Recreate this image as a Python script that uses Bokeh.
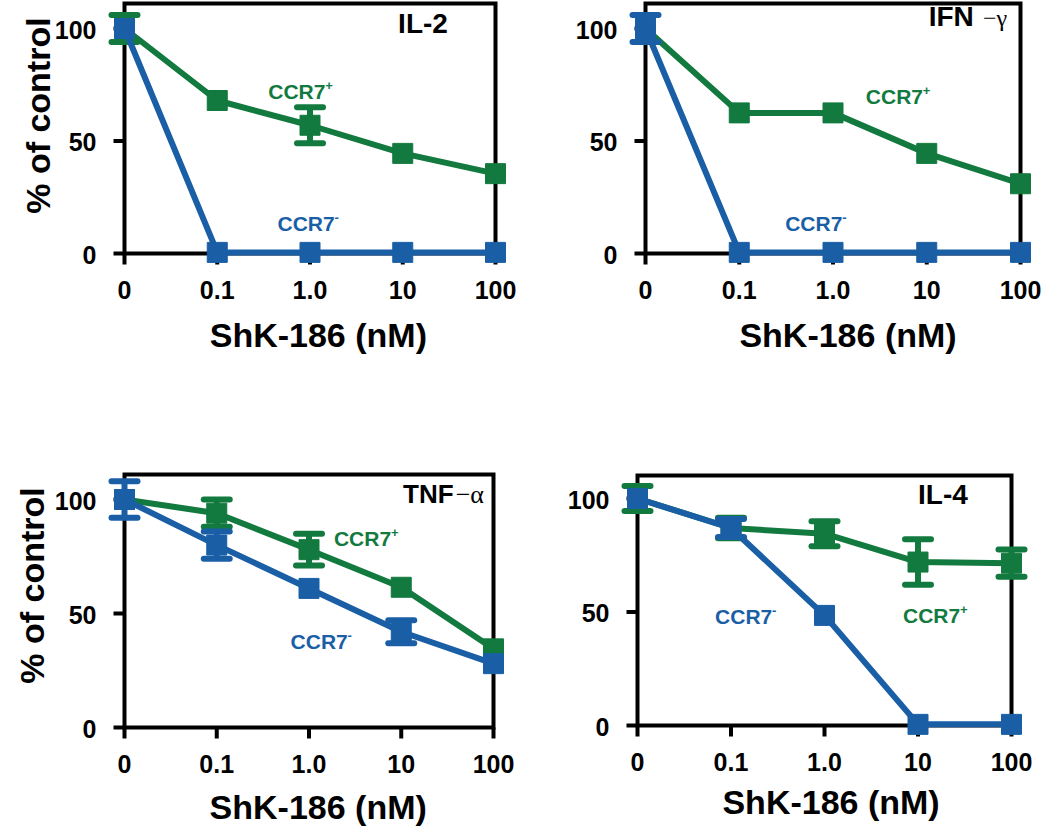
import math
from bokeh.plotting import figure
from bokeh.models import Range1d
from bokeh.layouts import column, row
from bokeh.core.properties import value
from bokeh.embed import file_html
from bokeh.resources import INLINE

# ---------------- data ----------------
doses = ["0", "0.1", "1.0", "10", "100"]          # ShK-186 (nM) tick labels
x_pos = [0, 1, 2, 3, 4]                            # positions of the dose categories
y_ticks = [0, 50, 100]
y_tick_labels = ["0", "50", "100"]

il2_pos = [100, 68, 57, 44.5, 35.5]
il2_pos_err = [6, 0, 8, 0, 0]
il2_neg = [100, 0.5, 0.5, 0.5, 0.5]
il2_neg_err = [0, 0, 0, 0, 0]

ifn_pos = [100, 62.5, 62.5, 44.5, 31]
ifn_pos_err = [0, 0, 0, 0, 0]
ifn_neg = [100, 0.5, 0.5, 0.5, 0.5]
ifn_neg_err = [6, 0, 0, 0, 0]

tnf_pos = [100, 94, 78, 61.5, 34.5]
tnf_pos_err = [0, 6, 7, 0, 0]
tnf_neg = [100, 80, 61, 42, 28]
tnf_neg_err = [8, 6, 0, 5, 0]

il4_pos = [100, 87, 84.5, 72, 71.5]
il4_pos_err = [5.5, 4.5, 5.5, 10, 6]
il4_neg = [100, 87, 48.5, 0.5, 0.5]
il4_neg_err = [0, 4, 0, 0, 0]

FONT = "Liberation Sans"
GREEN = "#137a3f"
BLUE = "#1a5fa6"

OX, OY = 0, 0          # the page puts the layout at the window's top-left corner
SPLIT_X, SPLIT_Y, RIGHT, BOTTOM = 540, 420, 1046, 834
BASE_SHIFT = 0.32      # compensation for where the text baseline lands, in em


def add_series(p, ys, errs, color):
    p.line(x_pos, ys, line_color=color, line_width=6)
    ex = [x for x, e in zip(x_pos, errs) if e > 0]
    lo = [y - e for y, e in zip(ys, errs) if e > 0]
    hi = [y + e for y, e in zip(ys, errs) if e > 0]
    if ex:
        p.segment(x0=ex, y0=lo, x1=ex, y1=hi, line_color=color, line_width=6)
        p.scatter(ex + ex, lo + hi, marker="dash", size=26, line_color=color,
                  line_width=6, line_cap="round")
    p.scatter(x_pos, ys, marker="square", size=20, fill_color=color, line_color=color)


def txt(p, x, y, s, size, color="black", align="left", font=FONT, bold=True,
        dx=0, dy=0, rotated=False):
    corr = BASE_SHIFT * size
    if rotated:
        dx -= corr
    else:
        dy -= corr
    p.text(x=x, y=y, text=s, text_font=value(font),
           text_font_style="bold" if bold else "normal", text_font_size=f"{size}px",
           text_color=color, text_align=align, text_baseline="alphabetic",
           x_offset=dx, y_offset=dy, angle=math.pi / 2 if rotated else 0)


def make_panel(fig, box, pos, pos_err, neg, neg_err, title, suffix, labels, xlabel, ylabel):
    fx0, fy0, fx1, fy1 = fig
    bl, br, y0, y100, bt = box
    bt = max(bt, fy0 + 2)
    sx = (br - bl) / 4.0
    sy = (y0 - y100) / 100.0
    p = figure(width=fx1 - fx0, height=fy1 - fy0, output_backend="svg",
               toolbar_location=None, x_axis_type=None, y_axis_type=None,
               x_range=Range1d((fx0 - bl) / sx, 4 + (fx1 - br) / sx),
               y_range=Range1d(-(fy1 - y0) / sy, 100 + (y100 - fy0) / sy),
               min_border=0, min_border_left=0, min_border_right=0,
               min_border_top=0, min_border_bottom=0)
    p.outline_line_color = None
    p.background_fill_color = "white"
    p.border_fill_color = "white"

    # frame box and ticks
    p.quad(left=[0], right=[4], bottom=[0], top=[(y0 - bt) / sy], fill_color=None,
           line_color="black", line_width=4, line_join="miter")
    p.ray(x=x_pos, y=[0] * len(x_pos), length=11, length_units="screen",
          angle=-math.pi / 2, line_color="black", line_width=4)
    p.ray(x=[0] * len(y_ticks), y=y_ticks, length=11, length_units="screen",
          angle=math.pi, line_color="black", line_width=4)

    # tick labels
    txt(p, x_pos, [0] * len(x_pos), doses, 25, align="center", dy=44)
    txt(p, [0] * len(y_ticks), y_ticks, y_tick_labels, 25, align="right",
        dx=-28, dy=9)

    add_series(p, pos, pos_err, GREEN)
    add_series(p, neg, neg_err, BLUE)

    # panel title
    txt(p, [title[1]], [title[2]], [title[0]], title[3])
    if suffix is not None:
        txt(p, [suffix[1]], [title[2]], [suffix[0]], suffix[2], font="Liberation Serif",
            bold=False)

    # series labels
    for (lx, ly, sup, col) in labels:
        txt(p, [lx], [ly], ["CCR7"], 21, color=col)
        txt(p, [lx], [ly], [sup], 13, color=col, dx=57, dy=-9)

    txt(p, [xlabel[0]], [xlabel[1]], ["ShK-186 (nM)"], 34, align="center")
    if ylabel is not None:
        txt(p, [ylabel[0]], [ylabel[1]], ["% of control"], 34, align="center",
            rotated=True)
    return p


p1 = make_panel((OX, OY, SPLIT_X, SPLIT_Y), (124, 495, 253, 28, 3),
                il2_pos, il2_pos_err, il2_neg, il2_neg_err,
                ("IL-2", 2.95, 98.2, 28), None,
                [(1.55, 68.9, "+", GREEN), (1.65, 10.2, "-", BLUE)],
                (2.09, -40.9), (-0.82, 61.3))
p2 = make_panel((SPLIT_X, OY, RIGHT, SPLIT_Y), (645, 1020, 253, 28, 3),
                ifn_pos, ifn_pos_err, ifn_neg, ifn_neg_err,
                ("IFN", 3.02, 101.3, 28), ("\u2212\u03b3", 3.6, 24),
                [(2.35, 66.7, "+", GREEN), (1.49, 10.2, "-", BLUE)],
                (2.16, -40.9), None)
p3 = make_panel((OX, SPLIT_Y, SPLIT_X, BOTTOM), (124, 493, 727, 499, 474),
                tnf_pos, tnf_pos_err, tnf_neg, tnf_neg_err,
                ("TNF", 3.02, 98.7, 26), ("\u2212\u03b1", 3.59, 26),
                [(2.27, 79.8, "+", GREEN), (1.80, 34.6, "-", BLUE)],
                (2.10, -39.5), (-0.89, 62.3))
p4 = make_panel((SPLIT_X, SPLIT_Y, RIGHT, BOTTOM), (637, 1011, 725, 498, 475),
                il4_pos, il4_pos_err, il4_neg, il4_neg_err,
                ("IL-4", 3.0, 97.8, 28), None,
                [(2.84, 45.4, "+", GREEN), (0.83, 45.0, "-", BLUE)],
                (2.07, -38.3), None)

lay = column(row(p1, p2, spacing=0), row(p3, p4, spacing=0), spacing=0)

open("out.html", "w").write(file_html(lay, INLINE))
